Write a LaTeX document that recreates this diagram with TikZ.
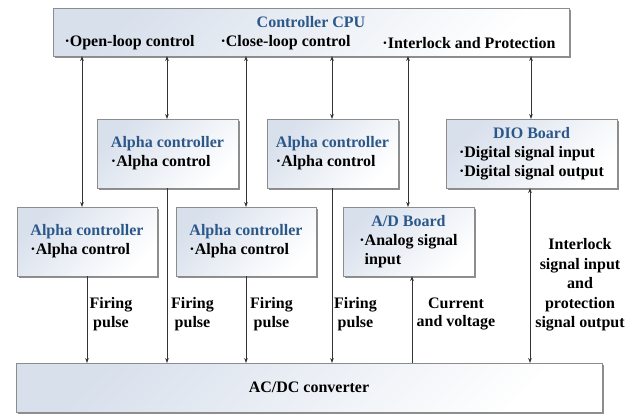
\documentclass[tikz,border=0pt]{standalone}
\usepackage{fontspec}
\setmainfont{Liberation Serif}
\usetikzlibrary{arrows.meta,shadows}
\definecolor{ttl}{HTML}{2B5889}
\definecolor{boxtop}{HTML}{D8E0EC}
\definecolor{edge}{HTML}{8C8C8C}
\definecolor{ln}{HTML}{333333}
\newcommand\bxtext[2]{\begin{tabular}{@{}l@{}}\multicolumn{1}{@{}c@{}}{\textcolor{ttl}{#1}}\\#2\end{tabular}}
\begin{document}
\begin{tikzpicture}[x=1pt,y=-1pt,
  font=\fontsize{16}{19.2}\selectfont\bfseries,
  box/.style={draw=edge, line width=0.7pt, top color=boxtop, bottom color=white, shading angle=45,
    drop shadow={shadow xshift=1.8pt,shadow yshift=-1.8pt,fill=black!55,opacity=0.8},
    inner sep=0pt, outer sep=0pt, align=center},
  conn/.style={draw=ln, line width=0.7pt},
  tip/.style={-{Stealth[length=5pt,width=3.6pt]}},
  bitip/.style={{Stealth[length=5pt,width=3.6pt]}-{Stealth[length=5pt,width=3.6pt]}},
  lbl/.style={align=center, inner sep=0pt, font=\fontsize{16}{18.5}\selectfont\bfseries}
]
\useasboundingbox (0,0) rectangle (638,413);
% boxes
\node[box, minimum width=516pt, minimum height=48pt] (cpu) at (311,32) {};
\node[inner sep=0pt, text=ttl] (cputitle) at (311,22) {Controller CPU};
\node[inner sep=0pt] (cpua) at (129.5,43) {·Open-loop control};
\node[inner sep=0pt] (cpub) at (285.5,43) {·Close-loop control};
\node[inner sep=0pt] (cpuc) at (469,43) {·Interlock and Protection};

\node[box, minimum width=141pt, minimum height=69pt] (ua1) at (167.5,153.5) {\bxtext{Alpha controller}{·Alpha control}};
\node[box, minimum width=131pt, minimum height=69pt] (ua2) at (332.5,153.5) {\bxtext{Alpha controller}{·Alpha control}};
\node[box, minimum width=171pt, minimum height=69pt] (dio) at (531.5,153.5) {\bxtext{DIO Board}{·Digital signal input\\·Digital signal output}};
\node[box, minimum width=140pt, minimum height=69pt] (la1) at (87,241.5) {\bxtext{Alpha controller}{·Alpha control}};
\node[box, minimum width=140pt, minimum height=69pt] (la2) at (246,241.5) {\bxtext{Alpha controller}{·Alpha control}};
\node[box, minimum width=131pt, minimum height=69pt] (ad) at (408.5,241.5) {\bxtext{A/D Board}{·Analog signal\\\phantom{·}input}};
\node[box, minimum width=586pt, minimum height=49pt] (acdc) at (309,387.5) {AC/DC converter};

% CPU links
\draw[conn,bitip] (cpu.south -| 82,0) -- (la1.north -| 82,0);
\draw[conn,bitip] (cpu.south -| 167,0) -- (ua1.north -| 167,0);
\draw[conn,bitip] (cpu.south -| 246,0) -- (la2.north -| 246,0);
\draw[conn,bitip] (cpu.south -| 332,0) -- (ua2.north -| 332,0);
\draw[conn,bitip] (cpu.south -| 408,0) -- (ad.north -| 408,0);
\draw[conn,bitip] (cpu.south -| 531,0) -- (dio.north -| 531,0);

% lower links
\draw[conn,tip] (la1.south -| 87,0) -- (acdc.north -| 87,0);
\draw[conn,tip] (ua1.south -| 167,0) -- (acdc.north -| 167,0);
\draw[conn,tip] (la2.south -| 246,0) -- (acdc.north -| 246,0);
\draw[conn,tip] (ua2.south -| 332,0) -- (acdc.north -| 332,0);
\draw[conn,tip] (acdc.north -| 412,0) -- (ad.south -| 412,0);
\draw[conn,bitip] (dio.south -| 530,0) -- (acdc.north -| 530,0);

% labels
\node[lbl] (f1) at (111,314) {Firing\\pulse};
\node[lbl] (f2) at (192.5,314) {Firing\\pulse};
\node[lbl] (f3) at (271.5,314) {Firing\\pulse};
\node[lbl] (f4) at (355.5,314) {Firing\\pulse};
\node[lbl] (cv) at (456,314) {Current\\and voltage};
\node[lbl, font=\fontsize{16}{19.5}\selectfont\bfseries] (il) at (580,285) {Interlock\\signal input\\and\\protection\\signal output};
\end{tikzpicture}
\end{document}
